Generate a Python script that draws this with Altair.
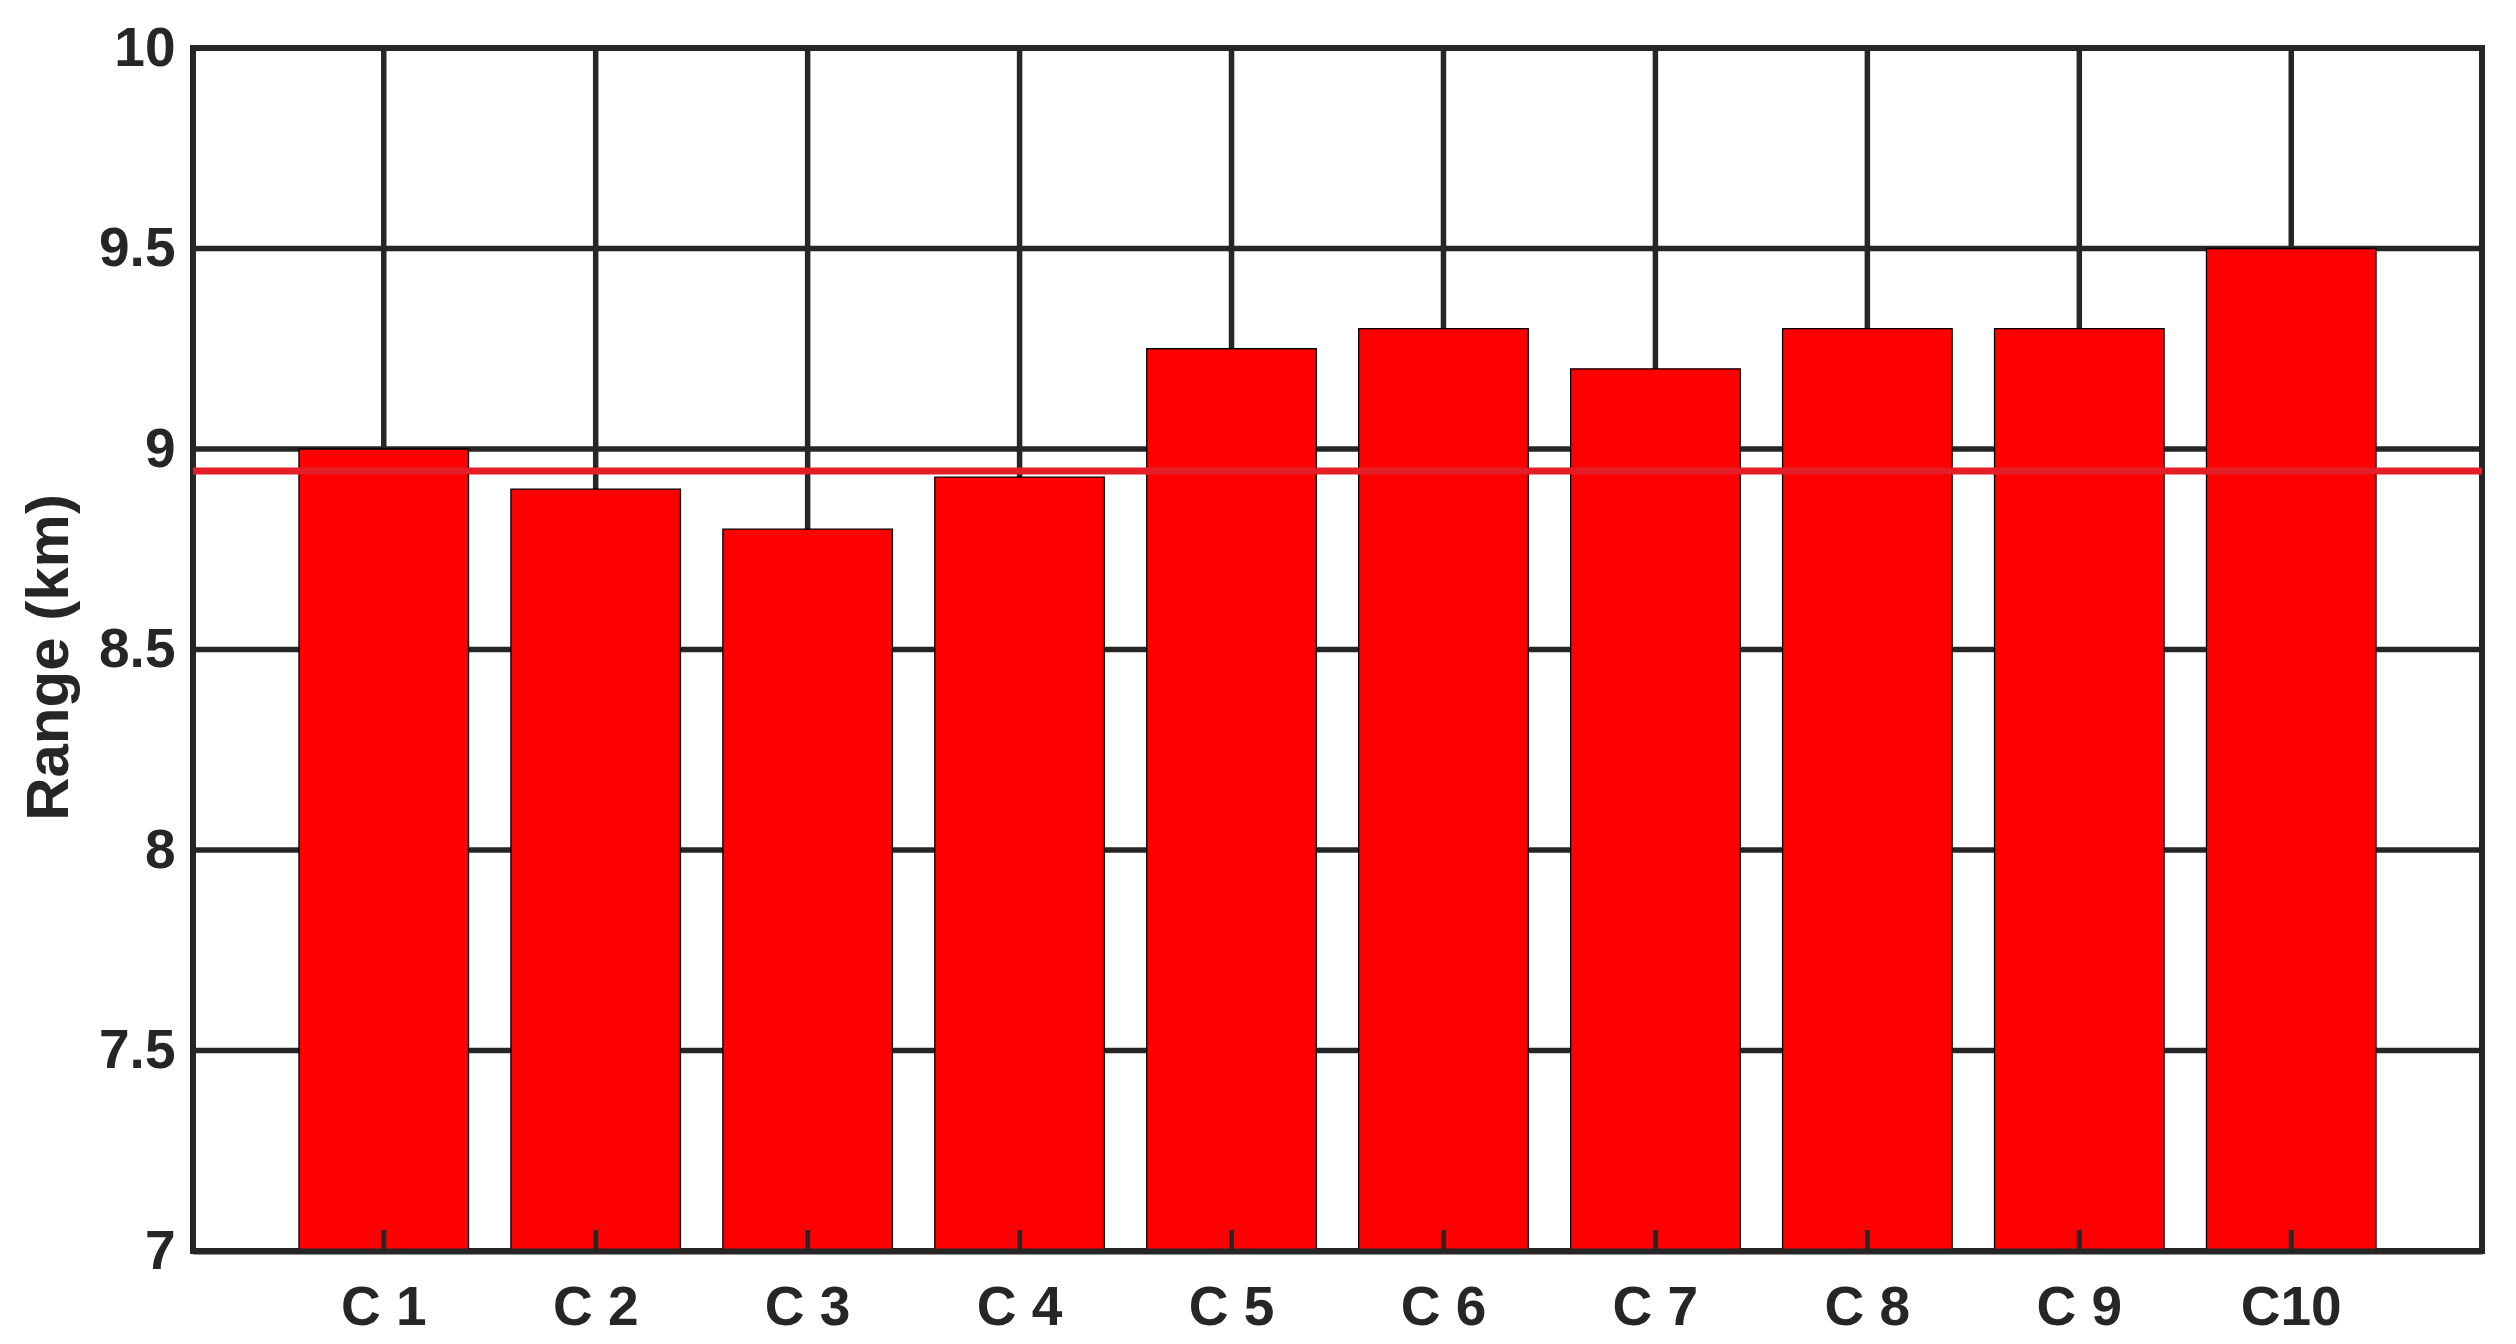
import altair as alt
import pandas as pd

# ---- data ----
categories = ["C 1", "C 2", "C 3", "C 4", "C 5", "C 6", "C 7", "C 8", "C 9", "C10"]
ranges_km = [9.0, 8.9, 8.8, 8.93, 9.25, 9.3, 9.2, 9.3, 9.3, 9.5]
reference_level = [8.945]
y_tick_values = [7, 7.5, 8, 8.5, 9, 9.5, 10]
y_baseline = 7

W, H = 2289, 1203
INK = "#262626"
FONT = "Liberation Sans"

bars_df = pd.DataFrame({"category": categories, "range": ranges_km})
cat_df = pd.DataFrame({"category": categories})
ygrid_df = pd.DataFrame({"v": y_tick_values})
ref_df = pd.DataFrame({"level": reference_level})

x_scale = alt.Scale(domain=categories, paddingInner=0.2, paddingOuter=0.5)
y_scale = alt.Scale(domain=[7, 10], nice=False, zero=False)

x_axis = alt.Axis(
    title=None,
    labelAngle=0,
    labelFont=FONT,
    labelFontSize=55,
    labelFontWeight="bold",
    labelColor=INK,
    labelPadding=30,
    ticks=False,
    grid=False,
    domain=True,
    domainColor=INK,
    domainWidth=6,
    zindex=1,
)

y_axis = alt.Axis(
    title="Range (km)",
    values=y_tick_values,
    format="~g",
    labelFont=FONT,
    labelFontSize=55,
    labelFontWeight="bold",
    labelColor=INK,
    labelPadding=18,
    ticks=False,
    grid=False,
    domain=False,
    titleFont=FONT,
    titleFontSize=60,
    titleFontWeight="bold",
    titleColor=INK,
    titleX=-113,
    titleY=609,
    titleAngle=-90,
    titleBaseline="bottom",
    titleAlign="center",
)


def xenc(**kw):
    return alt.X("category:N", sort=categories, scale=x_scale, axis=x_axis, **kw)


# horizontal grid lines (behind bars)
hgrid = alt.Chart(ygrid_df).mark_rule(color=INK, strokeWidth=5.5).encode(
    y=alt.Y("v:Q", scale=y_scale, axis=y_axis)
)

# vertical grid lines at each category (behind bars)
vgrid = alt.Chart(cat_df).mark_rule(color=INK, strokeWidth=5.5).encode(
    x=xenc(bandPosition=0.5)
)

bars = alt.Chart(bars_df).mark_bar(
    color="#FF0000", stroke="#000000", strokeWidth=1.3, opacity=1
).encode(
    x=xenc(),
    y=alt.Y("range:Q", scale=y_scale, axis=y_axis),
    y2=alt.datum(y_baseline),
)

# inward ticks at bottom (drawn over bars)
ticks = alt.Chart(cat_df).mark_rule(color=INK, strokeWidth=5).encode(
    x=xenc(bandPosition=0.5),
    y=alt.value(H),
    y2=alt.value(H - 21),
)

# red reference line
ref = alt.Chart(ref_df).mark_rule(color="#E41E26", strokeWidth=7).encode(
    y=alt.Y("level:Q", scale=y_scale, axis=y_axis)
)

chart = (
    alt.layer(hgrid, vgrid, bars, ticks, ref)
    .properties(
        width=W,
        height=H,
        autosize=alt.AutoSizeParams(type="none"),
        padding={"left": 185, "top": 40, "right": 26, "bottom": 85},
        background="white",
    )
    .configure_view(stroke=INK, strokeWidth=6)
)

chart.save("out.html", embed_options={"renderer": "svg", "actions": False})
